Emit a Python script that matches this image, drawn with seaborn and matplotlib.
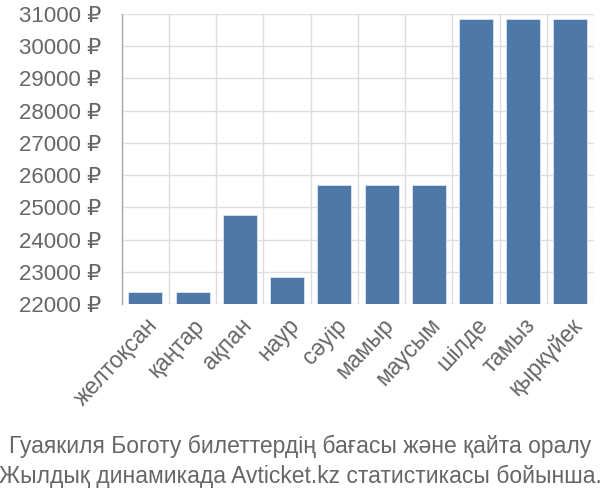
import numpy as np
import pandas as pd
import matplotlib
matplotlib.use("Agg")
import matplotlib.pyplot as plt
from matplotlib.ticker import FixedLocator, FuncFormatter
import seaborn as sns

months = ["желтоқсан", "қаңтар", "ақпан", "наур", "сәуір", "мамыр",
          "маусым", "шілде", "тамыз", "қыркүйек"]
prices = [22370, 22370, 24770, 22840, 25690, 25690, 25690, 30850, 30850, 30850]
y_ticks = [22000, 23000, 24000, 25000, 26000, 27000, 28000, 29000, 30000, 31000]
title_lines = ["Гуаякиля Боготу билеттердің бағасы және қайта оралу",
               "Жылдық динамикада Avticket.kz статистикасы бойынша."]

sns.set_style("white")
plt.rcParams["font.family"] = ["Liberation Sans", "DejaVu Sans"]

text_col = "#666666"
grid_col = "#dddddd"

df = pd.DataFrame({"month": months, "price": prices})

fig = plt.figure(figsize=(6, 5), dpi=100)
ax = fig.add_axes([0.203, 0.392, 0.787, 0.58])

sns.barplot(data=df, x="month", y="price", color="#4e79a7", saturation=1,
            width=0.72, edgecolor="#dde6f0", linewidth=0.6, ax=ax, zorder=3)

ax.set_ylim(22000, 31000)
ax.set_xlim(-0.5, len(months) - 0.5)
ax.yaxis.set_major_locator(FixedLocator(y_ticks))
ax.yaxis.set_major_formatter(FuncFormatter(lambda v, p: f"{int(v)} ₽"))
ax.grid(axis="y", color=grid_col, linewidth=1, zorder=0)

# category boundaries as minor ticks/grid
ax.xaxis.set_minor_locator(FixedLocator(np.arange(-0.5, len(months), 1.0)))
ax.grid(axis="x", which="minor", color=grid_col, linewidth=1, zorder=0)
ax.tick_params(axis="x", which="minor", length=12, color=grid_col, width=1)
ax.tick_params(axis="x", which="major", length=0, pad=7)
ax.tick_params(axis="y", length=14, color=grid_col, width=1, pad=1)

ax.set_xticks(range(len(months)))
ax.set_xticklabels(months, rotation=47, ha="right", rotation_mode="anchor")
for lbl in ax.get_xticklabels():
    lbl.set_color(text_col)
    lbl.set_fontsize(16.5)
for lbl in ax.get_yticklabels():
    lbl.set_color(text_col)
    lbl.set_fontsize(16)

for s in ["top", "right", "bottom"]:
    ax.spines[s].set_visible(False)
ax.spines["left"].set_color("#aaaaaa")
ax.spines["left"].set_linewidth(1)
ax.set_xlabel("")
ax.set_ylabel("")

fig.text(0.5, 0.077, "\n".join(title_lines), ha="center", va="center",
         color=text_col, fontsize=16.5, linespacing=1.4)

fig.savefig("out.png", dpi=100)
